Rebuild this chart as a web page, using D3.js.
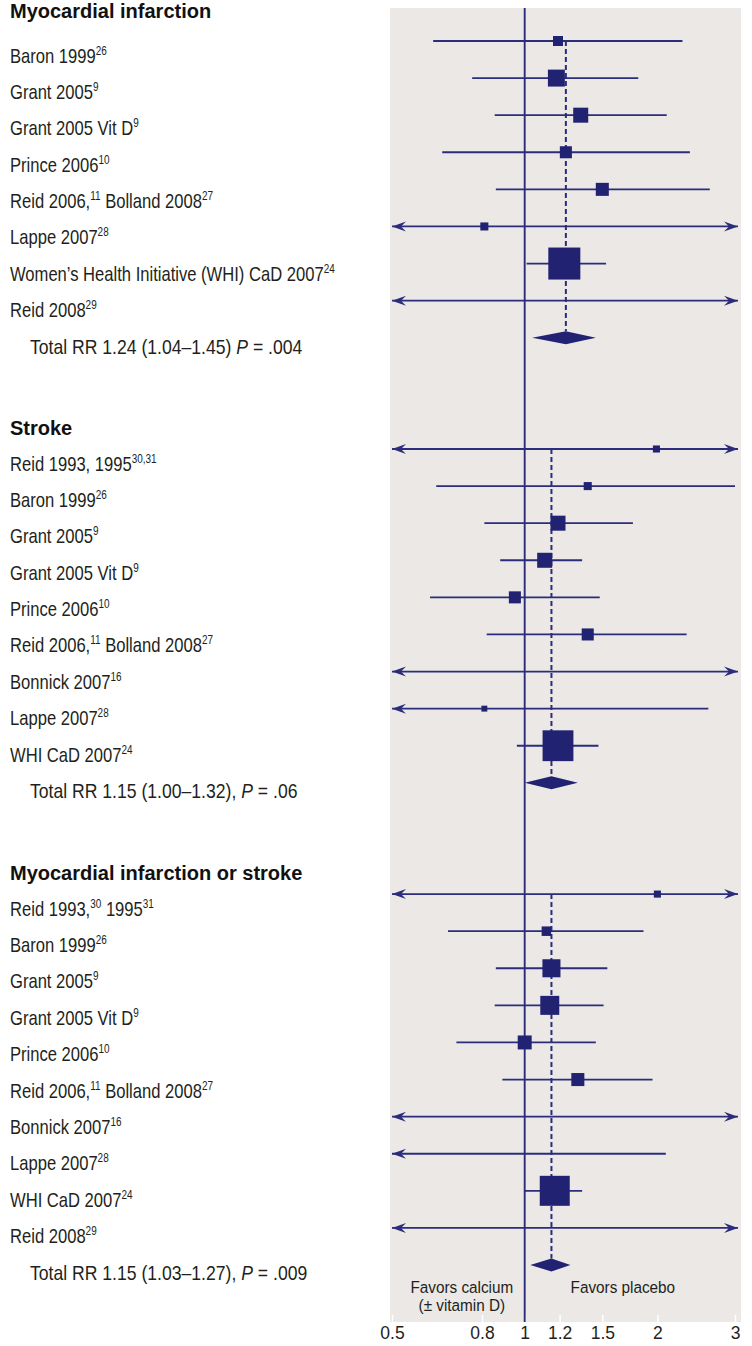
<!DOCTYPE html>
<html><head><meta charset="utf-8">
<script src="https://cdn.jsdelivr.net/npm/d3@7"></script>
<style>body{margin:0;background:#fff}svg{display:block}</style>
</head><body><svg id="c" width="752" height="1346"></svg>
<script>
// ---------- DATA ----------
const sectionTitles = ["Myocardial infarction", "Stroke", "Myocardial infarction or stroke"];

const miLabels = ["Baron 1999^{26}", "Grant 2005^{9}", "Grant 2005 Vit D^{9}", "Prince 2006^{10}",
  "Reid 2006,^{11} Bolland 2008^{27}", "Lappe 2007^{28}", "Women\u2019s Health Initiative (WHI) CaD 2007^{24}", "Reid 2008^{29}"];
const miRR     = [1.19, 1.18, 1.34, 1.24, 1.50, 0.81, 1.23, null];
const miLow    = [0.62, 0.76, 0.855, 0.65, 0.86, null, 1.01, null];
const miHigh   = [2.28, 1.81, 2.10, 2.37, 2.63, null, 1.53, null];
const miWeight = [4, 11.5, 9, 5.8, 6.8, 2.6, 41, 0];

const strokeLabels = ["Reid 1993, 1995^{30,31}", "Baron 1999^{26}", "Grant 2005^{9}", "Grant 2005 Vit D^{9}", "Prince 2006^{10}",
  "Reid 2006,^{11} Bolland 2008^{27}", "Bonnick 2007^{16}", "Lappe 2007^{28}", "WHI CaD 2007^{24}"];
const strokeRR     = [1.99, 1.39, 1.19, 1.11, 0.95, 1.39, null, 0.81, 1.19];
const strokeLow    = [null, 0.63, 0.81, 0.88, 0.61, 0.82, null, null, 0.96];
const strokeHigh   = [null, 3.0, 1.76, 1.35, 1.48, 2.33, null, 2.61, 1.47];
const strokeWeight = [2, 2.6, 9, 9, 5.8, 5.8, 0, 1.4, 38];

const bothLabels = ["Reid 1993,^{30} 1995^{31}", "Baron 1999^{26}", "Grant 2005^{9}", "Grant 2005 Vit D^{9}", "Prince 2006^{10}",
  "Reid 2006,^{11} Bolland 2008^{27}", "Bonnick 2007^{16}", "Lappe 2007^{28}", "WHI CaD 2007^{24}", "Reid 2008^{29}"];
const bothRR     = [2.0, 1.12, 1.15, 1.14, 1.00, 1.32, null, null, 1.17, null];
const bothLow    = [null, 0.67, 0.86, 0.855, 0.70, 0.89, null, null, 1.00, null];
const bothHigh   = [null, 1.86, 1.54, 1.51, 1.45, 1.95, null, 2.09, 1.35, null];
const bothWeight = [2, 3.6, 13, 14.4, 7.8, 6.8, 0, 0, 36, 0];

const pooledRR   = [1.24, 1.15, 1.15];
const pooledLow  = [1.04, 1.00, 1.03];
const pooledHigh = [1.45, 1.32, 1.27];
const totalLabels = ["Total RR 1.24 (1.04\u20131.45) *P* = .004",
  "Total RR 1.15 (1.00\u20131.32), *P* = .06",
  "Total RR 1.15 (1.03\u20131.27), *P* = .009"];

const tickValues = [0.5, 0.8, 1, 1.2, 1.5, 2, 3];
const tickLabels = ["0.5", "0.8", "1", "1.2", "1.5", "2", "3"];
const favorsLeft = ["Favors calcium", "(\u00b1 vitamin D)"];
const favorsRight = "Favors placebo";

// ---------- LAYOUT ----------
const NAVY = "#2b2c7c", FILL = "#212272", PANEL = "#ebe8e5", TXT = "#231f20";
const FONT = "'Liberation Sans', Arial, sans-serif";
const svg = d3.select("#c");

const x = d3.scaleLog().domain([0.5, 3]).range([392, 735]);
const rowY = d3.scaleLinear().domain([0, 33]).range([41, 1265]);
const side = d3.scaleSqrt().domain([0, 100]).range([0, 50]);
const panelTop = 8, panelBottom = 1322, panelLeft = 390, panelRight = 741;

const sections = [
  {labels: miLabels, rr: miRR, lo: miLow, hi: miHigh, w: miWeight},
  {labels: strokeLabels, rr: strokeRR, lo: strokeLow, hi: strokeHigh, w: strokeWeight},
  {labels: bothLabels, rr: bothRR, lo: bothLow, hi: bothHigh, w: bothWeight}
];
let start = 0;
sections.forEach((s, i) => {
  s.title = sectionTitles[i];
  s.pooled = [pooledRR[i], pooledLow[i], pooledHigh[i]];
  s.total = totalLabels[i];
  s.start = start;
  start += s.labels.length + 1 + 2;
});

// panel
svg.append("rect").attr("x", panelLeft).attr("y", panelTop)
  .attr("width", panelRight - panelLeft).attr("height", panelBottom - panelTop).attr("fill", PANEL);

// axis
const ax = svg.append("g").attr("transform", `translate(0,${panelBottom})`)
  .call(d3.axisBottom(x).tickValues(tickValues).tickFormat((d, i) => tickLabels[i]).tickSize(-7).tickPadding(5));
ax.select(".domain").remove();
ax.selectAll(".tick line").attr("stroke", "#fff").attr("stroke-width", 1.5);
ax.selectAll(".tick text").attr("font-family", FONT).attr("font-size", 17.5).attr("fill", TXT);

// reference line at 1
svg.append("line").attr("x1", x(1)).attr("x2", x(1)).attr("y1", panelTop).attr("y2", panelBottom)
  .attr("stroke", NAVY).attr("stroke-width", 1.9);

const plot = svg.append("g");
const [xMin, xMax] = x.range();
const leftTip = xMin, rightTip = xMax + 3;
function arrow(tip, y, dir) {
  return `M${tip},${y}L${tip + dir * 14},${y - 5}L${tip + dir * 9},${y}L${tip + dir * 14},${y + 5}Z`;
}

sections.forEach(s => {
  const n = s.labels.length;
  const totalRow = s.start + n;
  const dh = 6.5;
  // dashed pooled line
  plot.append("line").attr("x1", x(s.pooled[0])).attr("x2", x(s.pooled[0]))
    .attr("y1", rowY(s.start)).attr("y2", rowY(totalRow) - dh)
    .attr("stroke", NAVY).attr("stroke-width", 2).attr("stroke-dasharray", "5,3");
  for (let k = 0; k < n; k++) {
    const y = rowY(s.start + k);
    const lo = s.lo[k], hi = s.hi[k];
    const x1 = lo == null ? leftTip : x(lo);
    const x2 = hi == null ? rightTip : x(hi);
    plot.append("line").attr("x1", x1).attr("x2", x2).attr("y1", y).attr("y2", y)
      .attr("stroke", NAVY).attr("stroke-width", 1.8);
    if (lo == null) plot.append("path").attr("d", arrow(leftTip, y, 1)).attr("fill", NAVY);
    if (hi == null) plot.append("path").attr("d", arrow(rightTip, y, -1)).attr("fill", NAVY);
    if (s.rr[k] != null && s.w[k] > 0) {
      const a = side(s.w[k]);
      plot.append("rect").attr("x", x(s.rr[k]) - a / 2).attr("y", y - a / 2)
        .attr("width", a).attr("height", a).attr("fill", FILL);
    }
  }
  const yd = rowY(totalRow);
  plot.append("path")
    .attr("d", `M${x(s.pooled[1])},${yd}L${x(s.pooled[0])},${yd - dh}L${x(s.pooled[2])},${yd}L${x(s.pooled[0])},${yd + dh}Z`)
    .attr("fill", FILL);
});

// ---------- TEXT ----------
function richText(g, str, px, py, size, sx) {
  const t = g.append("text").attr("transform", `translate(${px},${py}) scale(${sx},1)`)
    .attr("font-family", FONT).attr("font-size", size).attr("fill", TXT);
  const parts = str.split(/(\^\{[^}]*\}|\*[^*]*\*)/).filter(p => p.length);
  let raised = false;
  parts.forEach(p => {
    if (p.startsWith("^{")) {
      t.append("tspan").attr("font-size", size * 0.6).attr("dy", -8).text(p.slice(2, -1));
      raised = true;
    } else {
      const sp = t.append("tspan");
      if (raised) { sp.attr("dy", 8); raised = false; }
      if (p.startsWith("*")) sp.attr("font-style", "italic").text(p.slice(1, -1));
      else sp.text(p);
    }
  });
  return t;
}

const tg = svg.append("g");
sections.forEach((s, si) => {
  const n = s.labels.length;
  const labelY = k => rowY(s.start + k) + 21.5 - 0.7 * k;
  const hy = si === 0 ? 18 : labelY(0) - 36;
  tg.append("text").attr("x", 10).attr("y", hy).attr("font-family", FONT)
    .attr("font-weight", "bold").attr("font-size", 20).attr("fill", "#111").text(s.title);
  s.labels.forEach((l, k) => richText(tg, l, 10, labelY(k), 20, 0.83));
  richText(tg, s.total, 30, labelY(n), 20, 0.88);
});

// favors
const fl = tg.append("text").attr("transform", `translate(${x(0.72)},1293) scale(0.9,1)`)
  .attr("font-family", FONT).attr("font-size", 17).attr("fill", TXT).attr("text-anchor", "middle");
fl.append("tspan").attr("x", 0).attr("y", 0).text(favorsLeft[0]);
fl.append("tspan").attr("x", 0).attr("y", 18).text(favorsLeft[1]);
tg.append("text").attr("transform", `translate(${x(1.67)},1293) scale(0.9,1)`)
  .attr("font-family", FONT).attr("font-size", 17).attr("fill", TXT).attr("text-anchor", "middle").text(favorsRight);
</script>
</body></html>
